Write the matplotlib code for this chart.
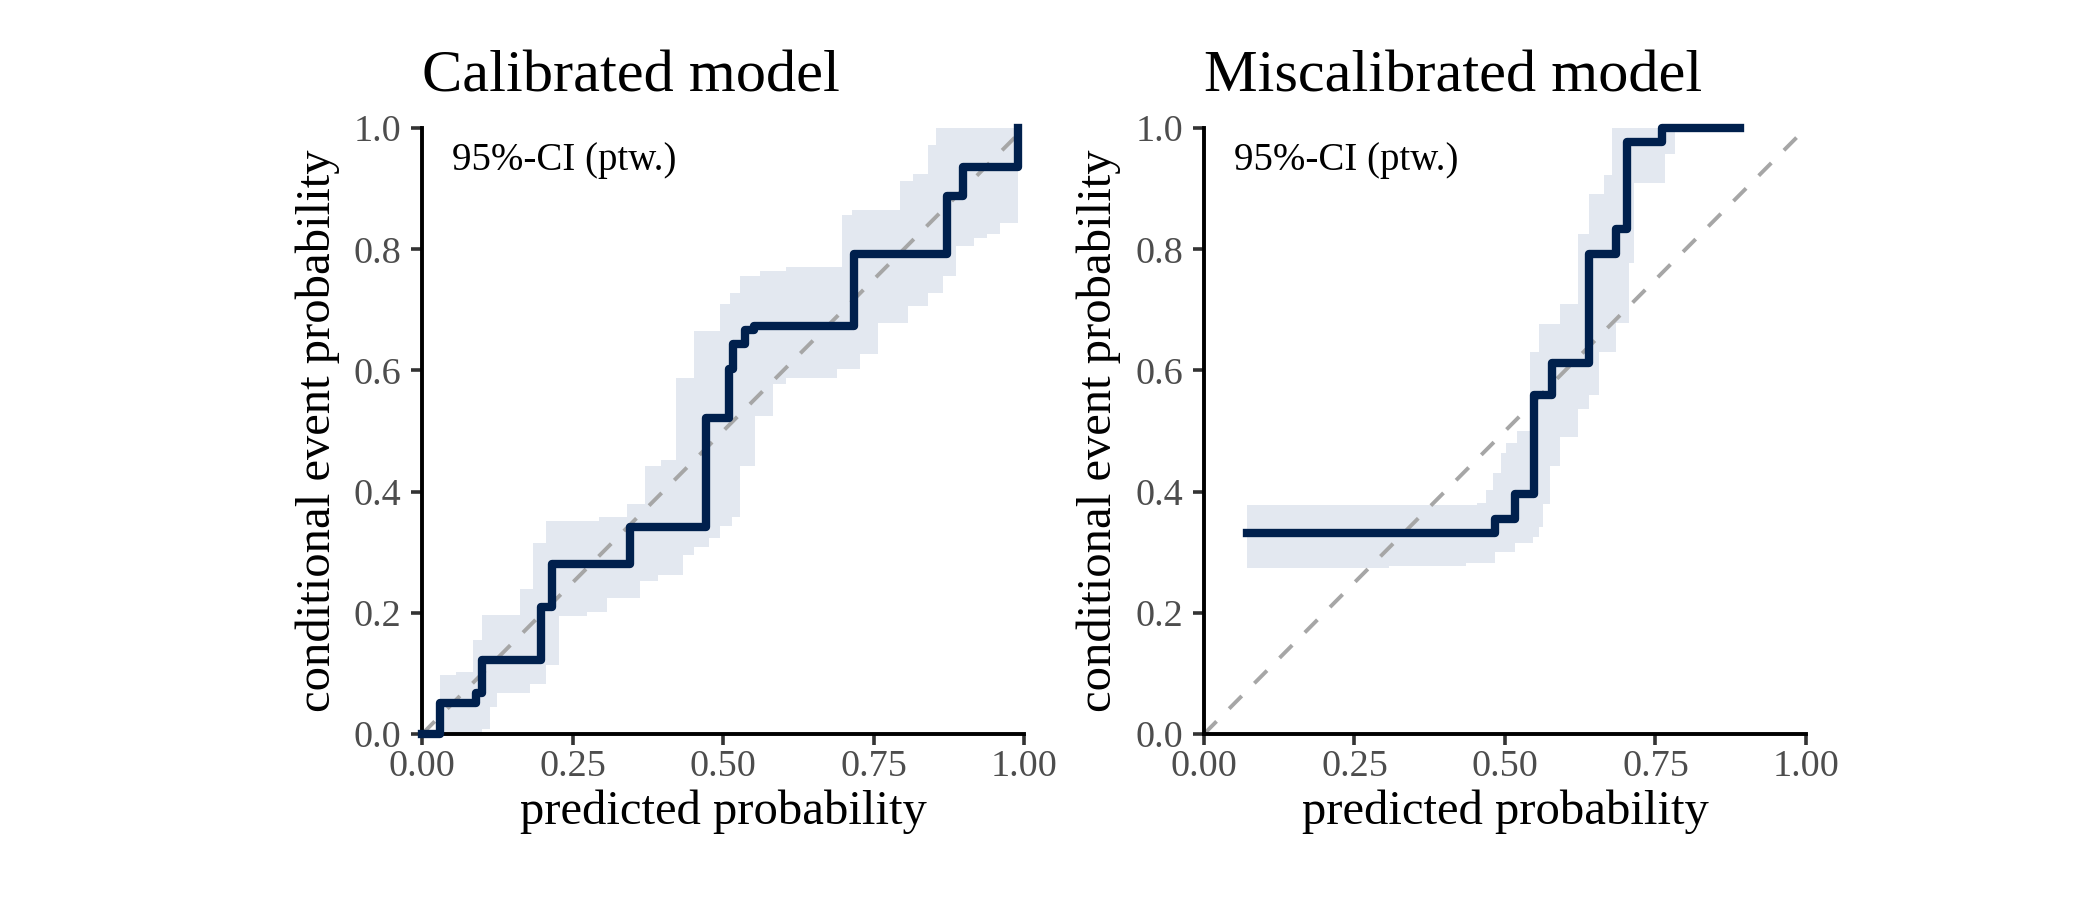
import matplotlib
matplotlib.use("Agg")
import matplotlib.pyplot as plt

plt.rcParams["font.family"] = ["Liberation Serif", "DejaVu Serif"]

# calibrated model: step curve
cal_x = [0.0, 0.030, 0.090, 0.100, 0.197, 0.216, 0.345, 0.471, 0.509, 0.517, 0.536, 0.551, 0.718, 0.872, 0.898, 0.989]
cal_y = [0.0, 0.051, 0.068, 0.123, 0.209, 0.281, 0.342, 0.522, 0.602, 0.643, 0.666, 0.674, 0.793, 0.888, 0.936, 1.0]

# calibrated model: pointwise 95% band
cal_band_x = [0.000, 0.030, 0.056, 0.085, 0.100, 0.113, 0.125, 0.163, 0.180, 0.185, 0.206, 0.227,
              0.274, 0.294, 0.307, 0.341, 0.362, 0.371, 0.392, 0.396, 0.422, 0.434, 0.451, 0.477,
              0.494, 0.511, 0.515, 0.528, 0.553, 0.561, 0.583, 0.604, 0.689, 0.697, 0.714, 0.727,
              0.757, 0.794, 0.807, 0.816, 0.841, 0.854, 0.866, 0.887, 0.917, 0.938, 0.960, 0.989]
cal_lo = [0.000, 0.000, 0.000, 0.000, 0.009, 0.044, 0.068, 0.068, 0.082, 0.082, 0.114, 0.194,
          0.201, 0.201, 0.225, 0.225, 0.253, 0.253, 0.263, 0.263, 0.263, 0.295, 0.309, 0.323,
          0.344, 0.344, 0.358, 0.442, 0.525, 0.525, 0.578, 0.588, 0.602, 0.602, 0.602, 0.627,
          0.679, 0.679, 0.707, 0.707, 0.728, 0.728, 0.756, 0.805, 0.819, 0.826, 0.843, 0.843]
cal_hi = [0.000, 0.098, 0.102, 0.156, 0.197, 0.197, 0.197, 0.239, 0.239, 0.316, 0.351, 0.351,
          0.351, 0.358, 0.358, 0.379, 0.379, 0.442, 0.442, 0.452, 0.588, 0.588, 0.665, 0.665,
          0.710, 0.727, 0.727, 0.756, 0.756, 0.764, 0.764, 0.770, 0.770, 0.857, 0.864, 0.864,
          0.864, 0.913, 0.913, 0.924, 0.972, 1.000, 1.000, 1.000, 1.000, 1.000, 1.000, 1.000]

# miscalibrated model: step curve
mis_x = [0.072, 0.483, 0.516, 0.549, 0.578, 0.639, 0.685, 0.703, 0.761, 0.891]
mis_y = [0.332, 0.355, 0.396, 0.560, 0.613, 0.792, 0.834, 0.977, 1.0, 1.0]

# miscalibrated model: pointwise 95% band
mis_band_x = [0.072, 0.308, 0.436, 0.453, 0.469, 0.480, 0.483, 0.494, 0.502, 0.516, 0.520, 0.541,
              0.546, 0.557, 0.563, 0.575, 0.592, 0.622, 0.639, 0.656, 0.664, 0.677, 0.685, 0.706,
              0.715, 0.766, 0.783]
mis_lo = [0.274, 0.278, 0.282, 0.282, 0.282, 0.282, 0.300, 0.300, 0.300, 0.315, 0.315, 0.315,
          0.325, 0.342, 0.379, 0.442, 0.490, 0.536, 0.560, 0.630, 0.630, 0.630, 0.679, 0.777,
          0.909, 0.958, 1.000]
mis_hi = [0.378, 0.378, 0.378, 0.381, 0.403, 0.430, 0.430, 0.464, 0.480, 0.480, 0.500, 0.630,
          0.630, 0.676, 0.676, 0.676, 0.710, 0.826, 0.892, 0.892, 0.923, 1.000, 1.000, 1.000,
          1.000, 1.000, 1.000]

titles = ["Calibrated model", "Miscalibrated model"]
ticks_x = [0.0, 0.25, 0.5, 0.75, 1.0]
ticks_y = [0.0, 0.2, 0.4, 0.6, 0.8, 1.0]

line_col = "#00204D"
band_col = "#E3E8F0"
diag_col = "#A6A6A6"
tick_col = "#4D4D4D"

fig = plt.figure(figsize=(21, 9), dpi=100)
ax1 = fig.add_axes([0.201, 0.1844, 0.2867, 0.6733])
ax2 = fig.add_axes([0.5733, 0.1844, 0.2867, 0.6733])

panels = [
    (ax1, cal_x, cal_y, cal_band_x, cal_lo, cal_hi),
    (ax2, mis_x, mis_y, mis_band_x, mis_lo, mis_hi),
]

for i, (ax, lx, ly, bx, lo, hi) in enumerate(panels):
    ax.fill_between(bx, lo, hi, step="post", color=band_col, linewidth=0, zorder=1)
    ax.plot([0, 1], [0, 1], color=diag_col, linewidth=2.8, linestyle=(0, (4.6, 4.6)), zorder=2)
    ax.step(lx, ly, where="post", color=line_col, linewidth=6, zorder=3, clip_on=False)

    ax.set_xlim(0, 1)
    ax.set_ylim(0, 1)
    ax.set_xticks(ticks_x)
    ax.set_xticklabels(["%.2f" % t for t in ticks_x])
    ax.set_yticks(ticks_y)
    ax.set_yticklabels(["%.1f" % t for t in ticks_y])
    ax.tick_params(axis="both", direction="out", length=8, width=2.6, color="#333333",
                   labelsize=27.5, labelcolor=tick_col)
    ax.tick_params(axis="y", pad=7)
    ax.tick_params(axis="x", pad=3)
    for s in ["top", "right"]:
        ax.spines[s].set_visible(False)
    for s in ["left", "bottom"]:
        ax.spines[s].set_linewidth(2.8)
        ax.spines[s].set_color("black")

    ax.set_xlabel("predicted probability", fontsize=35, labelpad=4)
    ax.set_ylabel("conditional event probability", fontsize=35, labelpad=10)
    ax.set_title(titles[i], fontsize=43.5, loc="left", pad=26)
    ax.text(0.05, 0.947, "95%-CI (ptw.)", fontsize=28, va="center", ha="left",
            transform=ax.transAxes)

fig.savefig("out.png", dpi=100)
